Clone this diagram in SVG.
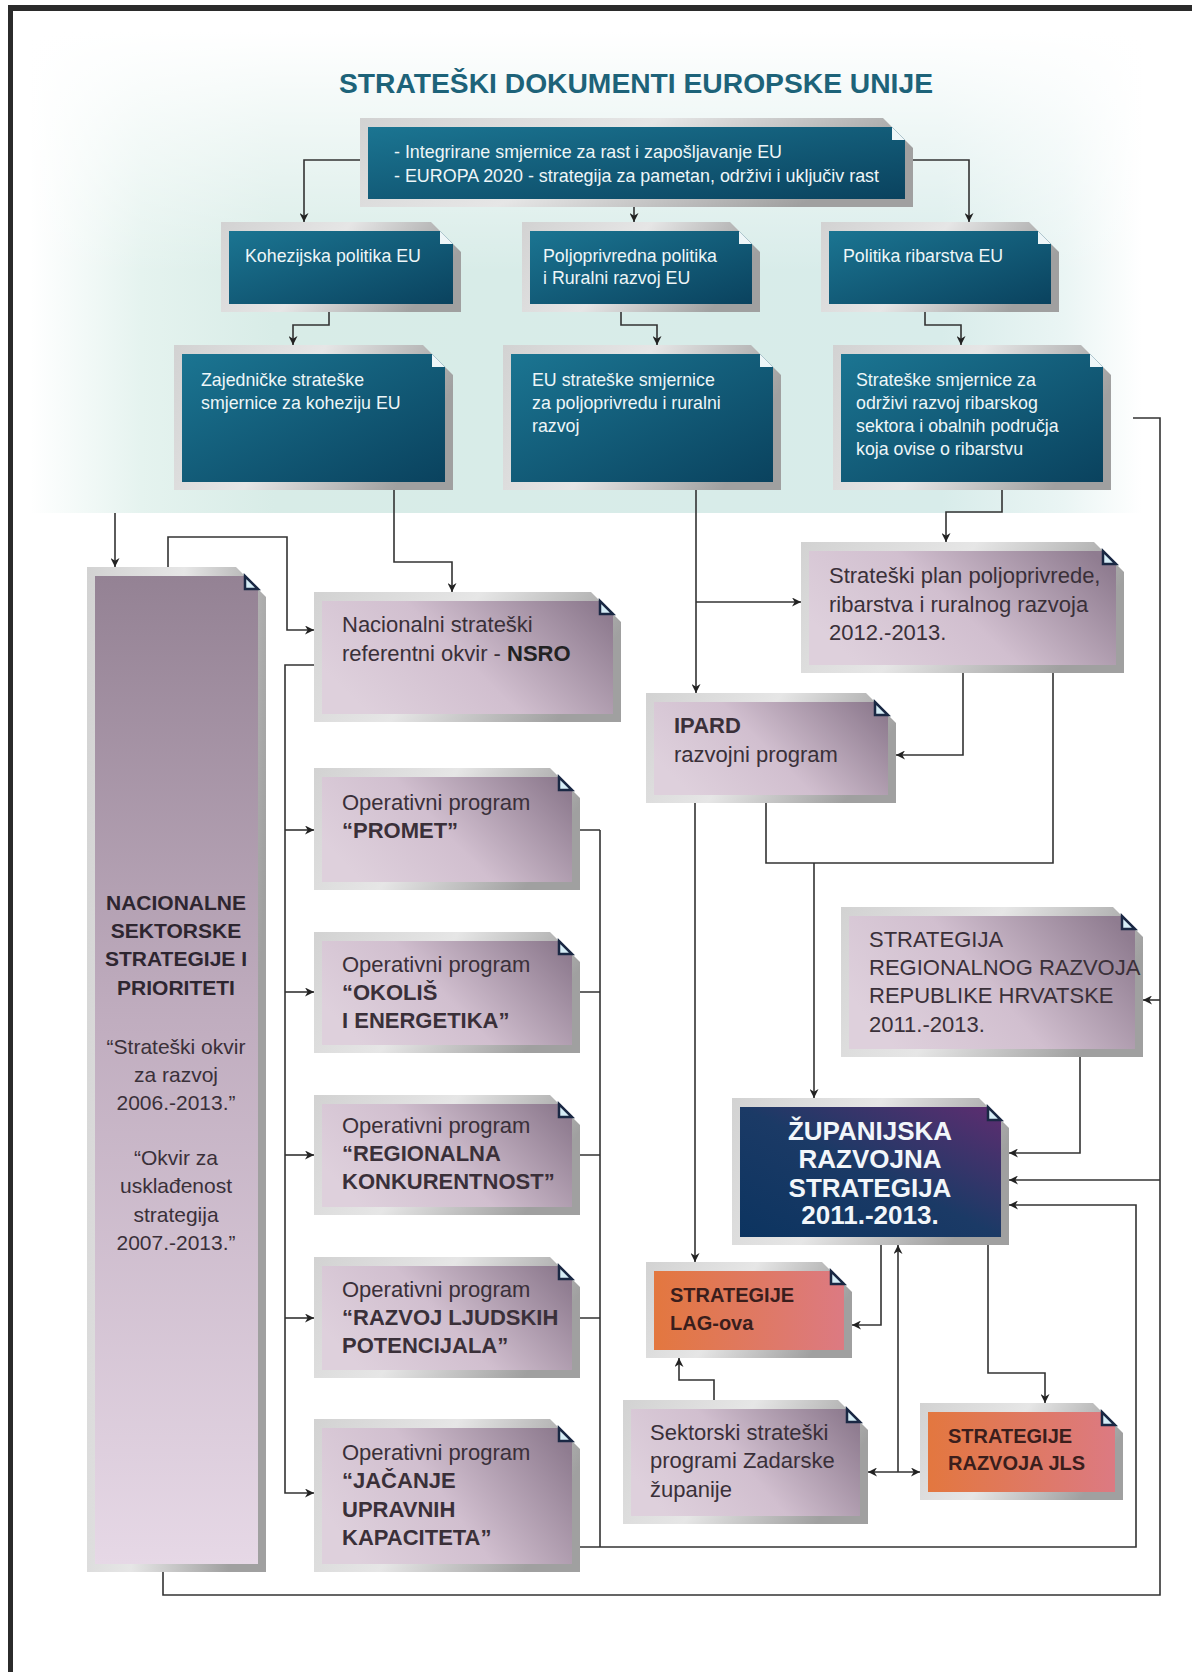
<svg xmlns="http://www.w3.org/2000/svg" width="1192" height="1672" viewBox="0 0 1192 1672">
<defs>
<style>
text{font-family:"Liberation Sans",Arial,sans-serif}
.frame{fill:url(#gFrame)}
.teal{fill:url(#gTeal)}
.pink{fill:url(#gPink)}
.nac{fill:url(#gNac)}
.zup{fill:url(#gZup)}
.orange{fill:url(#gOrange)}
.flapT{fill:#eef6f8}
.flapP{fill:#d6edf6;stroke:#1a2844;stroke-width:2.5;stroke-linejoin:miter}
.tw{fill:#eef6f8;font-size:17.8px}
.tp{fill:#3a3039;font-size:22px}
.tb{font-weight:bold}
.conn{fill:none;stroke:#333;stroke-width:1.6}
.arr{marker-end:url(#ah)}
</style>
<linearGradient id="gFrame" x1="0" y1="0" x2="1" y2="0.3">
<stop offset="0" stop-color="#d2d2d2"/><stop offset="0.5" stop-color="#e6e6e6"/><stop offset="1" stop-color="#a0a0a0"/>
</linearGradient>
<linearGradient id="gTeal" x1="0" y1="0" x2="1" y2="1">
<stop offset="0" stop-color="#1b7592"/><stop offset="1" stop-color="#0a425e"/>
</linearGradient>
<linearGradient id="gPink" x1="0" y1="0.6" x2="1" y2="0.2">
<stop offset="0" stop-color="#ded0dc"/><stop offset="0.45" stop-color="#d1bfcf"/><stop offset="1" stop-color="#8f7c90"/>
</linearGradient>
<linearGradient id="gNac" x1="0" y1="0" x2="0" y2="1">
<stop offset="0" stop-color="#948294"/><stop offset="0.45" stop-color="#c0adbf"/><stop offset="1" stop-color="#e6d8e6"/>
</linearGradient>
<linearGradient id="gZup" x1="0" y1="1" x2="1" y2="0">
<stop offset="0" stop-color="#0c3460"/><stop offset="0.5" stop-color="#1b3a66"/><stop offset="1" stop-color="#5e2d70"/>
</linearGradient>
<linearGradient id="gOrange" x1="0" y1="0" x2="1" y2="0">
<stop offset="0" stop-color="#e3773f"/><stop offset="1" stop-color="#dc7a82"/>
</linearGradient>
<linearGradient id="bgH" x1="0" y1="0" x2="1" y2="0">
<stop offset="0" stop-color="#ffffff"/><stop offset="0.1" stop-color="#e5f3ef"/><stop offset="0.22" stop-color="#d8ece7"/><stop offset="0.82" stop-color="#d8ecea"/><stop offset="0.93" stop-color="#eaf5f4"/><stop offset="1" stop-color="#ffffff"/>
</linearGradient>
<linearGradient id="bgV" x1="0" y1="0" x2="0" y2="1">
<stop offset="0" stop-color="#ffffff" stop-opacity="1"/><stop offset="0.22" stop-color="#ffffff" stop-opacity="0.55"/><stop offset="0.5" stop-color="#ffffff" stop-opacity="0"/>
</linearGradient>
<marker id="ah" viewBox="0 0 10 10" refX="10" refY="5" markerWidth="10" markerHeight="9" markerUnits="userSpaceOnUse" orient="auto-start-reverse">
<path d="M0,0 L10,5 L0,10 L3,5 Z" fill="#222"/>
</marker>
</defs>

<rect width="1192" height="1672" fill="#ffffff"/>
<rect x="30" y="32" width="1112" height="481" fill="url(#bgH)"/>
<rect x="30" y="32" width="1112" height="481" fill="url(#bgV)"/>
<rect x="8" y="5" width="1184" height="6" fill="#2b2b2b"/>
<rect x="8" y="5" width="5" height="1667" fill="#2b2b2b"/>

<text x="339" y="93" font-size="27" font-weight="bold" fill="#1d6379" textLength="594" lengthAdjust="spacingAndGlyphs">STRATEŠKI DOKUMENTI EUROPSKE UNIJE</text>

<g id="connectors">
<path class="conn arr" d="M360,160 H304 V222"/>
<path class="conn arr" d="M634,207 V222"/>
<path class="conn arr" d="M913,160 H969 V222"/>
<path class="conn arr" d="M329,312 V325 H293 V345"/>
<path class="conn arr" d="M621,312 V325 H657 V345"/>
<path class="conn arr" d="M925,312 V325 H961 V345"/>
<path class="conn arr" d="M394,490 V562 H452 V592"/>
<path class="conn arr" d="M696,490 V693"/>
<path class="conn arr" d="M696,602 H801"/>
<path class="conn arr" d="M1002,490 V512 H946 V542"/>
<path class="conn arr" d="M115,513 V567"/>
<path class="conn arr" d="M168,567 V537 H287 V630 H314"/>
<path class="conn arr" d="M314,665 H285 V1493 H314"/>
<path class="conn arr" d="M285,830 H314"/>
<path class="conn arr" d="M285,992 H314"/>
<path class="conn arr" d="M285,1155 H314"/>
<path class="conn arr" d="M285,1318 H314"/>
<path class="conn" d="M580,830 H600 M580,992 H600 M580,1155 H600 M580,1318 H600 M600,830 V1547"/>
<path class="conn arr" d="M580,1547 H1136 V1205 H1009"/>
<path class="conn arr" d="M963,673 V755 H896"/>
<path class="conn" d="M766,803 V863 H1053 V673"/>
<path class="conn arr" d="M814,863 V1098"/>
<path class="conn arr" d="M695,803 V1262"/>
<path class="conn" d="M1133,418 H1160 V1595 H163 V1572"/>
<path class="conn arr" d="M1160,1000 H1143"/>
<path class="conn arr" d="M1160,1180 H1009"/>
<path class="conn arr" d="M1080,1057 V1153 H1009"/>
<path class="conn arr" d="M881,1245 V1325 H852"/>
<path class="conn arr" d="M898,1472 V1245"/>
<path class="conn arr" d="M988,1245 V1373 H1045 V1403"/>
<path class="conn arr" d="M714,1400 V1380 H679 V1358"/>
<path class="conn arr" d="M868,1472 H920" marker-start="url(#ah)"/>
</g>

<g id="n-top">
<polygon class="frame" points="360,118 883,118 913,148 913,207 360,207"/>
<polygon class="teal" points="368,127 892,127 905,140 905,199 368,199"/>
<path class="flapT" d="M892,127 V140 H905 Z"/>
<text class="tw" x="394" y="158" font-size="16.8" textLength="388" lengthAdjust="spacingAndGlyphs">- Integrirane smjernice za rast i zapošljavanje EU</text>
<text class="tw" x="394" y="182" font-size="16.8" textLength="485" lengthAdjust="spacingAndGlyphs">- EUROPA 2020 - strategija za pametan, održivi i uključiv rast</text>
</g>

<g id="n-koh">
<polygon class="frame" points="221,222 431,222 461,252 461,312 221,312"/>
<polygon class="teal" points="229,231 440,231 453,244 453,304 229,304"/>
<path class="flapT" d="M440,231 V244 H453 Z"/>
<text class="tw" x="245" y="262">Kohezijska politika EU</text>
</g>

<g id="n-polj">
<polygon class="frame" points="522,222 730,222 760,252 760,312 522,312"/>
<polygon class="teal" points="530,231 739,231 752,244 752,304 530,304"/>
<path class="flapT" d="M739,231 V244 H752 Z"/>
<text class="tw" x="543" y="262">Poljoprivredna politika</text>
<text class="tw" x="543" y="284">i Ruralni razvoj EU</text>
</g>

<g id="n-rib">
<polygon class="frame" points="821,222 1029,222 1059,252 1059,312 821,312"/>
<polygon class="teal" points="829,231 1038,231 1051,244 1051,304 829,304"/>
<path class="flapT" d="M1038,231 V244 H1051 Z"/>
<text class="tw" x="843" y="262">Politika ribarstva EU</text>
</g>

<g id="n-zaj">
<polygon class="frame" points="174,345 423,345 453,375 453,490 174,490"/>
<polygon class="teal" points="182,354 432,354 445,367 445,482 182,482"/>
<path class="flapT" d="M432,354 V367 H445 Z"/>
<text class="tw" x="201" y="386">Zajedničke strateške</text>
<text class="tw" x="201" y="409">smjernice za koheziju EU</text>
</g>

<g id="n-eus">
<polygon class="frame" points="503,345 751,345 781,375 781,490 503,490"/>
<polygon class="teal" points="511,354 760,354 773,367 773,482 511,482"/>
<path class="flapT" d="M760,354 V367 H773 Z"/>
<text class="tw" x="532" y="386">EU strateške smjernice</text>
<text class="tw" x="532" y="409">za poljoprivredu i ruralni</text>
<text class="tw" x="532" y="432">razvoj</text>
</g>

<g id="n-ssz">
<polygon class="frame" points="833,345 1081,345 1111,375 1111,490 833,490"/>
<polygon class="teal" points="841,354 1090,354 1103,367 1103,482 841,482"/>
<path class="flapT" d="M1090,354 V367 H1103 Z"/>
<text class="tw" x="856" y="386">Strateške smjernice za</text>
<text class="tw" x="856" y="409">održivi razvoj ribarskog</text>
<text class="tw" x="856" y="432">sektora i obalnih područja</text>
<text class="tw" x="856" y="455">koja ovise o ribarstvu</text>
</g>

<g id="n-nac">
<polygon class="frame" points="87,567 236,567 266,597 266,1572 87,1572"/>
<polygon class="nac" points="95,576 245,576 258,589 258,1564 95,1564"/>
<path class="flapP" d="M245,576 V589 H258 Z"/>
<g text-anchor="middle" fill="#2e2630" font-size="21">
<text x="176" y="910" class="tb">NACIONALNE</text>
<text x="176" y="938" class="tb">SEKTORSKE</text>
<text x="176" y="966" class="tb">STRATEGIJE I</text>
<text x="176" y="995" class="tb">PRIORITETI</text>
<text x="176" y="1054" fill="#3a3039">“Strateški okvir</text>
<text x="176" y="1082" fill="#3a3039">za razvoj</text>
<text x="176" y="1110" fill="#3a3039">2006.-2013.”</text>
<text x="176" y="1165" fill="#3a3039">“Okvir za</text>
<text x="176" y="1193" fill="#3a3039">usklađenost</text>
<text x="176" y="1222" fill="#3a3039">strategija</text>
<text x="176" y="1250" fill="#3a3039">2007.-2013.”</text>
</g>
</g>

<g id="n-nsro">
<polygon class="frame" points="314,592 591,592 621,622 621,722 314,722"/>
<polygon class="pink" points="322,601 600,601 613,614 613,714 322,714"/>
<path class="flapP" d="M600,601 V614 H613 Z"/>
<text class="tp" x="342" y="632">Nacionalni strateški</text>
<text class="tp" x="342" y="661">referentni okvir - <tspan class="tb" fill="#222">NSRO</tspan></text>
</g>

<g id="n-spp">
<polygon class="frame" points="801,542 1094,542 1124,572 1124,673 801,673"/>
<polygon class="pink" points="809,551 1103,551 1116,564 1116,665 809,665"/>
<path class="flapP" d="M1103,551 V564 H1116 Z"/>
<text class="tp" x="829" y="583">Strateški plan poljoprivrede,</text>
<text class="tp" x="829" y="612">ribarstva i ruralnog razvoja</text>
<text class="tp" x="829" y="640">2012.-2013.</text>
</g>

<g id="n-ipard">
<polygon class="frame" points="646,693 866,693 896,723 896,803 646,803"/>
<polygon class="pink" points="654,702 875,702 888,715 888,795 654,795"/>
<path class="flapP" d="M875,702 V715 H888 Z"/>
<text class="tp tb" x="674" y="733" font-size="21" fill="#222">IPARD</text>
<text class="tp" x="674" y="762">razvojni program</text>
</g>

<g id="n-op1">
<polygon class="frame" points="314,768 550,768 580,798 580,890 314,890"/>
<polygon class="pink" points="322,777 559,777 572,790 572,882 322,882"/>
<path class="flapP" d="M559,777 V790 H572 Z"/>
<text class="tp" x="342" y="810">Operativni program</text>
<text class="tp tb" x="342" y="838" font-size="21" fill="#222">“PROMET”</text>
</g>

<g id="n-op2">
<polygon class="frame" points="314,932 550,932 580,962 580,1053 314,1053"/>
<polygon class="pink" points="322,941 559,941 572,954 572,1045 322,1045"/>
<path class="flapP" d="M559,941 V954 H572 Z"/>
<text class="tp" x="342" y="972">Operativni program</text>
<text class="tp tb" x="342" y="1000" font-size="21" fill="#222">“OKOLIŠ</text>
<text class="tp tb" x="342" y="1028" font-size="21" fill="#222">I ENERGETIKA”</text>
</g>

<g id="n-op3">
<polygon class="frame" points="314,1095 550,1095 580,1125 580,1215 314,1215"/>
<polygon class="pink" points="322,1104 559,1104 572,1117 572,1207 322,1207"/>
<path class="flapP" d="M559,1104 V1117 H572 Z"/>
<text class="tp" x="342" y="1133">Operativni program</text>
<text class="tp tb" x="342" y="1161" font-size="21" fill="#222">“REGIONALNA</text>
<text class="tp tb" x="342" y="1189" font-size="21" fill="#222">KONKURENTNOST”</text>
</g>

<g id="n-op4">
<polygon class="frame" points="314,1257 550,1257 580,1287 580,1378 314,1378"/>
<polygon class="pink" points="322,1266 559,1266 572,1279 572,1370 322,1370"/>
<path class="flapP" d="M559,1266 V1279 H572 Z"/>
<text class="tp" x="342" y="1297">Operativni program</text>
<text class="tp tb" x="342" y="1325" font-size="21" fill="#222">“RAZVOJ LJUDSKIH</text>
<text class="tp tb" x="342" y="1353" font-size="21" fill="#222">POTENCIJALA”</text>
</g>

<g id="n-op5">
<polygon class="frame" points="314,1419 550,1419 580,1449 580,1572 314,1572"/>
<polygon class="pink" points="322,1428 559,1428 572,1441 572,1564 322,1564"/>
<path class="flapP" d="M559,1428 V1441 H572 Z"/>
<text class="tp" x="342" y="1460">Operativni program</text>
<text class="tp tb" x="342" y="1488" font-size="21" fill="#222">“JAČANJE</text>
<text class="tp tb" x="342" y="1517" font-size="21" fill="#222">UPRAVNIH</text>
<text class="tp tb" x="342" y="1545" font-size="21" fill="#222">KAPACITETA”</text>
</g>

<g id="n-srr">
<polygon class="frame" points="841,907 1113,907 1143,937 1143,1057 841,1057"/>
<polygon class="pink" points="849,916 1122,916 1135,929 1135,1049 849,1049"/>
<path class="flapP" d="M1122,916 V929 H1135 Z"/>
<text class="tp" x="869" y="947" font-size="20">STRATEGIJA</text>
<text class="tp" x="869" y="975" font-size="20">REGIONALNOG RAZVOJA</text>
<text class="tp" x="869" y="1003" font-size="20">REPUBLIKE HRVATSKE</text>
<text class="tp" x="869" y="1032" font-size="20">2011.-2013.</text>
</g>

<g id="n-zup">
<polygon class="frame" points="732,1098 979,1098 1009,1128 1009,1245 732,1245"/>
<polygon class="zup" points="740,1107 988,1107 1001,1120 1001,1237 740,1237"/>
<path class="flapP" d="M988,1107 V1120 H1001 Z"/>
<g text-anchor="middle" fill="#f2f6fa" font-size="26" font-weight="bold">
<text x="870" y="1140">ŽUPANIJSKA</text>
<text x="870" y="1168">RAZVOJNA</text>
<text x="870" y="1197">STRATEGIJA</text>
<text x="870" y="1224">2011.-2013.</text>
</g>
</g>

<g id="n-lag">
<polygon class="frame" points="646,1262 822,1262 852,1292 852,1358 646,1358"/>
<polygon class="orange" points="654,1271 831,1271 844,1284 844,1350 654,1350"/>
<path class="flapP" d="M831,1271 V1284 H844 Z"/>
<text x="670" y="1302" font-size="20" font-weight="bold" fill="#3a1e1c">STRATEGIJE</text>
<text x="670" y="1330" font-size="20" font-weight="bold" fill="#3a1e1c">LAG-ova</text>
</g>

<g id="n-sek">
<polygon class="frame" points="623,1400 838,1400 868,1430 868,1524 623,1524"/>
<polygon class="pink" points="631,1409 847,1409 860,1422 860,1516 631,1516"/>
<path class="flapP" d="M847,1409 V1422 H860 Z"/>
<text class="tp" x="650" y="1440" font-size="21">Sektorski strateški</text>
<text class="tp" x="650" y="1468" font-size="21">programi Zadarske</text>
<text class="tp" x="650" y="1497" font-size="21">županije</text>
</g>

<g id="n-jls">
<polygon class="frame" points="920,1403 1093,1403 1123,1433 1123,1500 920,1500"/>
<polygon class="orange" points="928,1412 1102,1412 1115,1425 1115,1492 928,1492"/>
<path class="flapP" d="M1102,1412 V1425 H1115 Z"/>
<text x="948" y="1443" font-size="20" font-weight="bold" fill="#3a1e1c">STRATEGIJE</text>
<text x="948" y="1470" font-size="20" font-weight="bold" fill="#3a1e1c">RAZVOJA JLS</text>
</g>
</svg>
